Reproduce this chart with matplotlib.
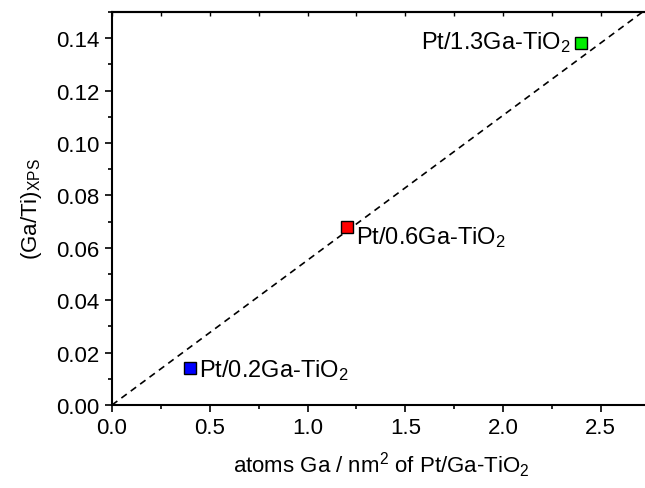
import matplotlib
matplotlib.use("Agg")
import matplotlib.pyplot as plt
from matplotlib.ticker import MultipleLocator

plt.rcParams['font.family'] = ['Liberation Sans', 'DejaVu Sans']
plt.rcParams['mathtext.fontset'] = 'custom'
plt.rcParams['mathtext.rm'] = 'Liberation Sans'
plt.rcParams['mathtext.it'] = 'Liberation Sans:italic'
plt.rcParams['mathtext.bf'] = 'Liberation Sans:bold'

# data
x_vals = [0.4, 1.2, 2.4]
y_vals = [0.014, 0.068, 0.138]
colors = ['#0000ff', '#ff0000', '#00ee00']
labels = ['Pt/0.2Ga-TiO$_2$', 'Pt/0.6Ga-TiO$_2$', 'Pt/1.3Ga-TiO$_2$']
line_x = [0.0, 2.75]
line_y = [0.0, 0.152]

fig = plt.figure(figsize=(6.45, 4.89), dpi=100)
ax = fig.add_axes([112/645, 83/489, (2.75*195.5)/645, (406-13)/489])
ax.set_xlim(0, 2.75)
ax.set_ylim(0, 0.15)

ax.plot(line_x, line_y, color='black', linestyle=(0, (4, 3)), linewidth=1.2, zorder=2)
for x, y, c in zip(x_vals, y_vals, colors):
    ax.plot([x], [y], marker='s', markersize=9.3, markerfacecolor=c,
            markeredgecolor='black', markeredgewidth=1.0, linestyle='none', zorder=3)

afs = 17
ax.annotate(labels[0], (x_vals[0], y_vals[0]), xytext=(6.5, -5.8), textcoords='offset points',
            ha='left', va='baseline', fontsize=afs)
ax.annotate(labels[1], (x_vals[1], y_vals[1]), xytext=(7, -11.5), textcoords='offset points',
            ha='left', va='baseline', fontsize=afs)
ax.annotate(labels[2], (x_vals[2], y_vals[2]), xytext=(-7.2, -3.6), textcoords='offset points',
            ha='right', va='baseline', fontsize=afs)

fs = 16
ax.xaxis.set_major_locator(MultipleLocator(0.5))
ax.xaxis.set_minor_locator(MultipleLocator(0.25))
ax.yaxis.set_major_locator(MultipleLocator(0.02))
ax.yaxis.set_minor_locator(MultipleLocator(0.01))
ax.xaxis.set_major_formatter(plt.FuncFormatter(lambda v, p: f"{v:.1f}"))
ax.yaxis.set_major_formatter(plt.FuncFormatter(lambda v, p: f"{v:.2f}"))

ax.tick_params(which='major', direction='out', length=5, width=1.2, labelsize=fs,
               top=False, right=False, pad=4)
ax.tick_params(which='minor', direction='out', length=3, width=1.2, top=False, right=False)

secx = ax.secondary_xaxis('top')
secx.xaxis.set_major_locator(MultipleLocator(0.25))
secx.tick_params(direction='in', length=3, width=1.0, labeltop=False)
secx.spines['top'].set_linewidth(1.5)

for s in ['left', 'bottom', 'top', 'right']:
    ax.spines[s].set_linewidth(1.5)

ax.set_xlabel('atoms Ga / nm$^2$ of Pt/Ga-TiO$_2$', fontsize=fs, labelpad=8)
ax.set_ylabel('(Ga/Ti)$_{\\mathrm{XPS}}$', fontsize=fs, labelpad=9)

fig.savefig('out.png', dpi=100)
